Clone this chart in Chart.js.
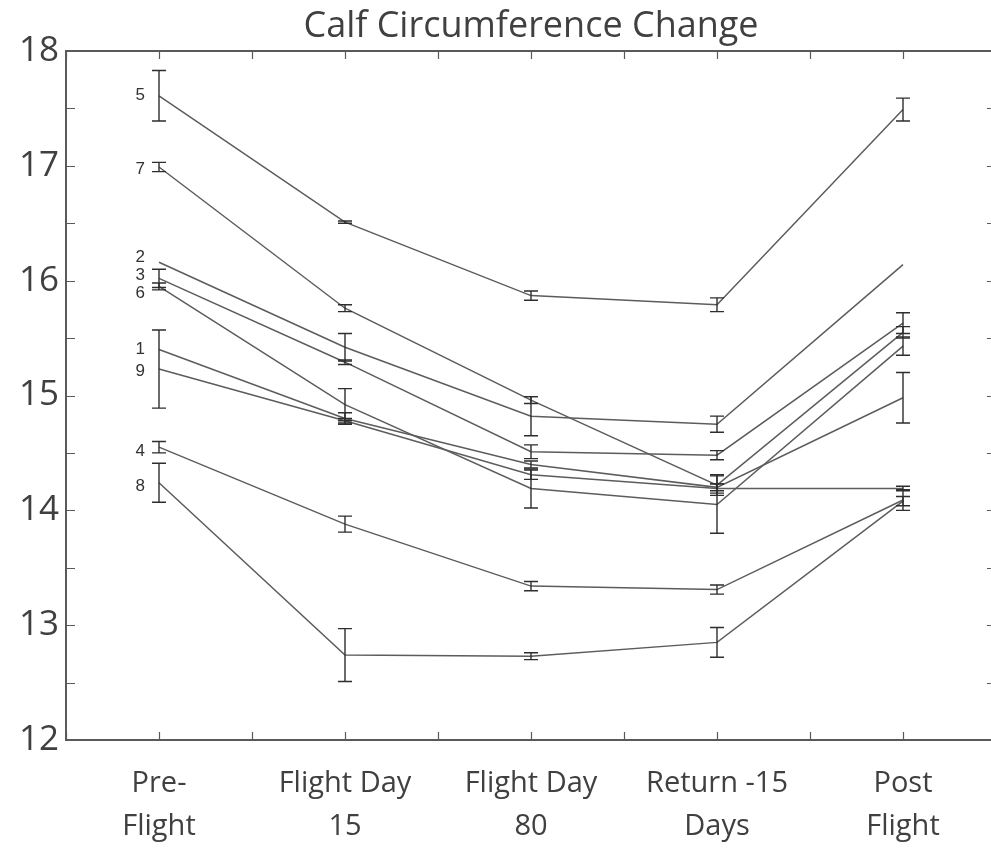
<!DOCTYPE html>
<html>
<head>
<meta charset="utf-8">
<script src="https://cdn.jsdelivr.net/npm/chart.js@4.4.1/dist/chart.umd.min.js"></script>
<style>
    html, body { margin: 0; padding: 0; background: #fff; overflow: hidden; }
    #wrap { width: 1000px; height: 849px; }
</style>
</head>
<body>
<div id="wrap"><canvas id="chartCalf"></canvas></div>
<script>
// categories / ticks
const chartTitle = 'Calf Circumference Change'
const stages = [['Pre-', 'Flight'], ['Flight Day', '15'], ['Flight Day', '80'], ['Return -15', 'Days'], ['Post', 'Flight']]
const yLabels = [12, 13, 14, 15, 16, 17, 18]

// subject means (cm) and error half-widths
const subj1 = [15.40, 14.80, 14.40, 14.20, 14.98]
const err1 = [0, 0.05, 0.03, 0.03, 0.22]
const subj2 = [16.16, 15.42, 14.82, 14.75, 16.14]
const err2 = [0, 0.12, 0.17, 0.07, 0]
const subj3 = [16.02, 15.29, 14.51, 14.48, 15.63]
const err3 = [0.08, 0.02, 0.06, 0.04, 0.09]
const subj4 = [14.55, 13.88, 13.34, 13.31, 14.09]
const err4 = [0.05, 0.07, 0.04, 0.04, 0.09]
const subj5 = [17.61, 16.51, 15.87, 15.79, 17.49]
const err5 = [0.22, 0.01, 0.04, 0.06, 0.10]
const subj6 = [15.95, 14.92, 14.19, 14.05, 15.43]
const err6 = [0.03, 0.14, 0.17, 0.25, 0.08]
const subj7 = [16.99, 15.76, 14.96, 14.22, 15.55]
const err7 = [0.04, 0.03, 0.03, 0.09, 0.05]
const subj8 = [14.24, 12.74, 12.73, 12.85, 14.08]
const err8 = [0.17, 0.23, 0.03, 0.13, 0.04]
const subj9 = [15.23, 14.78, 14.31, 14.19, 14.19]
const err9 = [0.34, 0.02, 0.04, 0.04, 0.02]

const subjects = [
    { name: '1', vals: subj1, err: err1 },
    { name: '2', vals: subj2, err: err2 },
    { name: '3', vals: subj3, err: err3 },
    { name: '4', vals: subj4, err: err4 },
    { name: '5', vals: subj5, err: err5 },
    { name: '6', vals: subj6, err: err6 },
    { name: '7', vals: subj7, err: err7 },
    { name: '8', vals: subj8, err: err8 },
    { name: '9', vals: subj9, err: err9 }
]

// small vertical nudges for the subject numbers so they don't overlap
const labelNudge = { '2': -5, '3': -3, '6': 7, '4': 4, '8': 4, '7': 2, '9': 2 }

const textColor = '#404040'

const frameAndBars = {
    id: 'frameAndBars',
    afterDatasetsDraw(chart) {
        const ctx = chart.ctx
        const a = chart.chartArea
        const xs = chart.scales.x
        const ys = chart.scales.y
        ctx.save()

        // error bars
        ctx.strokeStyle = '#2e2e2e'
        ctx.lineWidth = 1.4
        subjects.forEach(s => {
            s.vals.forEach((v, i) => {
                if (!s.err[i]) return
                const px = xs.getPixelForValue(i)
                const top = ys.getPixelForValue(v + s.err[i])
                const bot = ys.getPixelForValue(v - s.err[i])
                ctx.beginPath()
                ctx.moveTo(px, top); ctx.lineTo(px, bot)
                ctx.moveTo(px - 7, top); ctx.lineTo(px + 7, top)
                ctx.moveTo(px - 7, bot); ctx.lineTo(px + 7, bot)
                ctx.stroke()
            })
        })

        // box and inward ticks
        ctx.strokeStyle = '#5a5a5a'
        ctx.lineWidth = 2
        ctx.beginPath()
        ctx.moveTo(a.right, a.top); ctx.lineTo(a.left, a.top)
        ctx.lineTo(a.left, a.bottom); ctx.lineTo(a.right, a.bottom); ctx.lineTo(a.right, a.top)
        ctx.stroke()
        ctx.lineWidth = 1.2
        ctx.beginPath()
        for (let v = -0.5; v <= 4.5; v += 0.5) {
            const px = Math.round(xs.getPixelForValue(v)) + 0.5
            ctx.moveTo(px, a.top); ctx.lineTo(px, a.top + 8)
            ctx.moveTo(px, a.bottom); ctx.lineTo(px, a.bottom - 8)
        }
        for (let v = 12; v <= 18; v += 0.5) {
            const py = Math.round(ys.getPixelForValue(v)) + 0.5
            ctx.moveTo(a.left, py); ctx.lineTo(a.left + 9, py)
            ctx.moveTo(a.right, py); ctx.lineTo(a.right - 9, py)
        }
        ctx.stroke()

        // subject numbers beside the first point
        ctx.fillStyle = '#333'
        ctx.font = '17px "Liberation Sans", Arial, sans-serif'
        ctx.textAlign = 'right'
        ctx.textBaseline = 'middle'
        subjects.forEach(s => {
            const px = xs.getPixelForValue(0) - 14
            const py = ys.getPixelForValue(s.vals[0]) + (labelNudge[s.name] || 0)
            ctx.fillText(s.name, px, py)
        })

        // title, centred over the plot box
        ctx.fillStyle = textColor
        ctx.font = '36px "Open Sans", sans-serif'
        ctx.textAlign = 'center'
        ctx.fillText(chartTitle, (a.left + a.right) / 2, 27)
        ctx.restore()
    }
}

const ctx = document.getElementById('chartCalf').getContext('2d')

const chartCalf = new Chart(ctx, {
    type: 'line',
    data: {
        datasets: subjects.map(s => ({
            label: s.name,
            data: s.vals.map((v, i) => ({ x: i, y: v })),
            borderColor: '#5c5c5c',
            borderWidth: 1.5,
            pointRadius: 0,
            fill: false,
            tension: 0
        }))
    },
    options: {
        responsive: true,
        maintainAspectRatio: false,
        animation: false,
        layout: { padding: { left: 0, right: 4, top: 51, bottom: 0 } },
        plugins: {
            legend: { display: false },
            tooltip: { enabled: false },
            title: { display: false }
        },
        scales: {
            x: {
                type: 'linear',
                min: -0.5,
                max: 4.5,
                grid: { display: false, drawTicks: false },
                border: { display: false },
                afterBuildTicks: scale => { scale.ticks = stages.map((s, i) => ({ value: i })) },
                afterFit: scale => { scale.height = 109 },
                ticks: {
                    color: textColor,
                    padding: 22,
                    maxRotation: 0,
                    autoSkip: false,
                    font: { family: '"Open Sans", sans-serif', size: 29, lineHeight: 1.48 },
                    callback: value => stages[value]
                }
            },
            y: {
                min: 12,
                max: 18,
                grid: { display: false, drawTicks: false },
                border: { display: false },
                afterBuildTicks: scale => { scale.ticks = yLabels.map(v => ({ value: v })) },
                afterFit: scale => { scale.width = 66 },
                ticks: {
                    color: textColor,
                    padding: 7,
                    font: { family: '"Open Sans", sans-serif', size: 35 }
                }
            }
        }
    },
    plugins: [frameAndBars]
})
</script>
</body>
</html>
